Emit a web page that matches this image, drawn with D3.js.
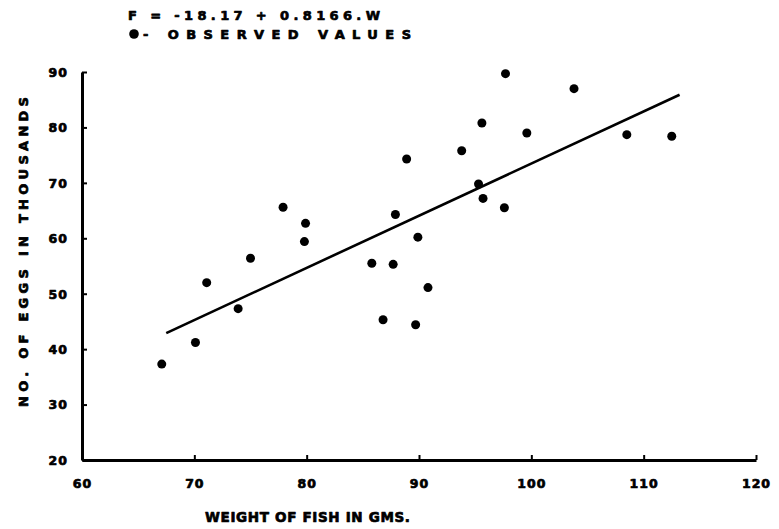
<!DOCTYPE html>
<html>
<head>
<meta charset="utf-8">
<script src="https://cdn.jsdelivr.net/npm/d3@7"></script>
<style>
    body { margin: 0; background: #fff; }
    svg { display: block; }
    .hand { font-family: "DejaVu Sans", sans-serif; font-weight: bold; fill: #000;
            stroke: #000; stroke-width: 0.7; stroke-linejoin: round; }
</style>
</head>
<body>
<div id="chart"></div>
<script>
// weight of fish (gms) and number of eggs (thousands)
const weights = [67.1, 70.1, 71.1, 73.9, 75.0, 77.9, 79.9, 79.8, 85.8, 86.8, 87.7, 87.9,
                 88.9, 89.9, 89.7, 90.8, 93.8, 95.3, 95.6, 95.7, 97.7, 97.6, 99.6, 103.8,
                 108.5, 112.5];
const eggs = [37.3, 41.2, 52.0, 47.3, 56.4, 65.6, 62.7, 59.4, 55.5, 45.3, 55.3, 64.3,
              74.3, 60.2, 44.4, 51.1, 75.8, 69.8, 80.8, 67.2, 89.7, 65.5, 79.0, 87.0,
              78.7, 78.4];
// ends of the fitted line as drawn
const fitW = [67.5, 113.2];
const fitF = [42.9, 85.9];
const xTicks = [60, 70, 80, 90, 100, 110, 120];
const yTicks = [20, 30, 40, 50, 60, 70, 80, 90];
const equation = "F = -18.17 + 0.8166.W";
const legendText = "- OBSERVED VALUES";
const xTitle = "WEIGHT OF FISH IN GMS.";
const yTitle = "NO. OF EGGS IN THOUSANDS";

const width = 779, height = 529;
const plot = { left: 82, right: 756, top: 72, bottom: 460 };

const x = d3.scaleLinear().domain([60, 120]).range([plot.left, plot.right]);
const y = d3.scaleLinear().domain([20, 90]).range([plot.bottom, plot.top]);

const svg = d3.select("#chart").append("svg")
    .attr("width", width)
    .attr("height", height);

// header: equation and legend
svg.append("text").attr("class", "hand")
    .attr("x", 128).attr("y", 20)
    .attr("font-size", 13)
    .attr("textLength", 252).attr("lengthAdjust", "spacing")
    .text(equation);

svg.append("circle")
    .attr("cx", 134).attr("cy", 34).attr("r", 4.8)
    .attr("fill", "#000");

svg.append("text").attr("class", "hand")
    .attr("x", 143).attr("y", 39)
    .attr("font-size", 13)
    .attr("textLength", 268).attr("lengthAdjust", "spacing")
    .text(legendText);

// axes
const xAxis = d3.axisBottom(x).tickValues(xTicks).tickSize(0).tickPadding(19);
const yAxis = d3.axisLeft(y).tickValues(yTicks).tickSize(0).tickPadding(14);

const gx = svg.append("g")
    .attr("transform", `translate(0,${plot.bottom})`)
    .call(xAxis);
const gy = svg.append("g")
    .attr("transform", `translate(${plot.left},0)`)
    .call(yAxis);

[gx, gy].forEach(g => {
    g.select(".domain").attr("stroke", "#000").attr("stroke-width", 3);
    g.selectAll("text")
        .attr("class", "hand")
        .attr("font-size", 12.5)
        .attr("letter-spacing", 1);
});
gy.selectAll("text").attr("dy", "0.35em");

// small inward tick marks
gx.selectAll(".tick").append("line")
    .attr("y1", 0).attr("y2", -5)
    .attr("stroke", "#000").attr("stroke-width", 2);
gy.selectAll(".tick").append("line")
    .attr("x1", 0).attr("x2", 5)
    .attr("stroke", "#000").attr("stroke-width", 2);

// axis titles
svg.append("text").attr("class", "hand")
    .attr("x", 205).attr("y", 522)
    .attr("font-size", 13.5)
    .attr("textLength", 205).attr("lengthAdjust", "spacing")
    .text(xTitle);

svg.append("text").attr("class", "hand")
    .attr("transform", "translate(28,407) rotate(-90)")
    .attr("font-size", 13)
    .attr("textLength", 310).attr("lengthAdjust", "spacing")
    .text(yTitle);

// fitted line
const fit = fitW.map((w, i) => [w, fitF[i]]);
svg.append("path")
    .datum(fit)
    .attr("d", d3.line().x(d => x(d[0])).y(d => y(d[1])))
    .attr("fill", "none")
    .attr("stroke", "#000")
    .attr("stroke-width", 2.6);

// observed values
svg.append("g").selectAll("circle")
    .data(weights.map((w, i) => [w, eggs[i]]))
    .join("circle")
    .attr("cx", d => x(d[0]))
    .attr("cy", d => y(d[1]))
    .attr("r", 4.5)
    .attr("fill", "#000");
</script>
</body>
</html>
